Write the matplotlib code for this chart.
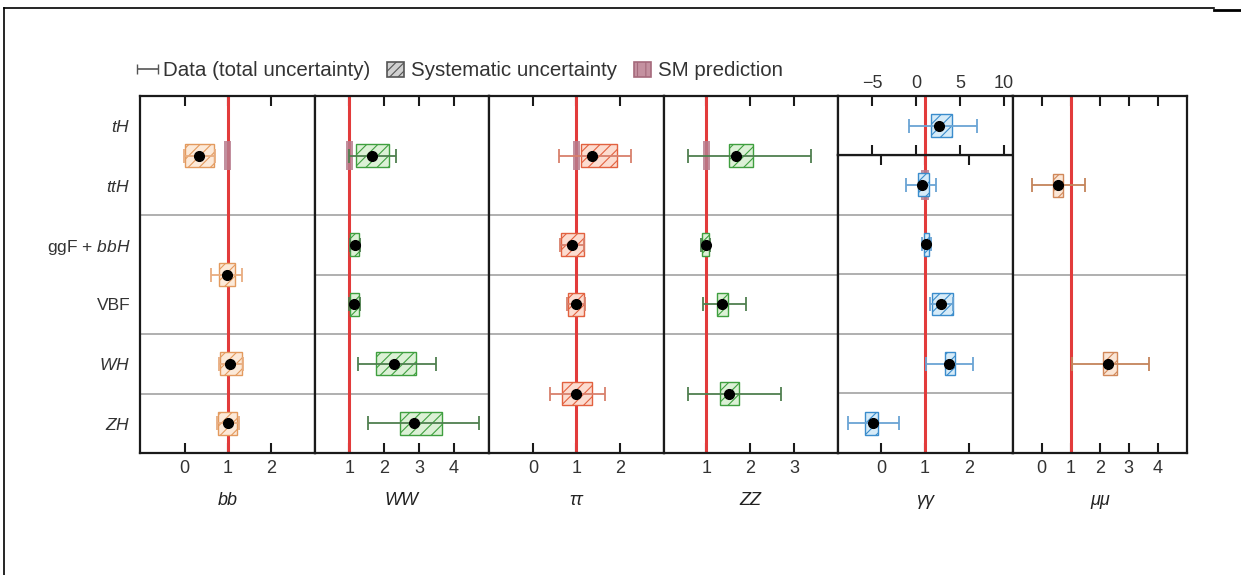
import numpy as np
import matplotlib.pyplot as plt
from matplotlib.patches import Rectangle
from matplotlib.lines import Line2D

plt.rcParams['font.family'] = ['Liberation Sans', 'DejaVu Sans']
plt.rcParams['mathtext.fontset'] = 'custom'
plt.rcParams['mathtext.it'] = 'Liberation Sans:italic'
plt.rcParams['mathtext.rm'] = 'Liberation Sans'
plt.rcParams['hatch.linewidth'] = 0.8

### DATA
prod_labels = ['$tH$', '$ttH$', 'ggF + $bbH$', 'VBF', '$WH$', '$ZH$']
channels = ['bb', 'WW', 'ττ', 'ZZ', 'γγ', 'μμ']

# row index: 0 = tH ... 5 = ZH, x.5 = merged rows
bb_rows = [0.5, 2.5, 4, 5]
bb_mu = [0.34, 0.97, 1.06, 1.00]
bb_tot = [[0.36, 0.35, 0.27, 0.25], [0.37, 0.36, 0.28, 0.25]]
bb_syst = [[0.33, 0.18, 0.24, 0.22], [0.35, 0.19, 0.26, 0.22]]
bb_sm = [0.08, 0, 0, 0]
bb_seps = [1.5, 3.5, 4.5]

ww_rows = [0.5, 2, 3, 4, 5]
ww_mu = [1.66, 1.15, 1.13, 2.27, 2.86]
ww_tot = [[0.66, 0.14, 0.14, 1.01, 1.32], [0.68, 0.14, 0.16, 1.22, 1.85]]
ww_syst = [[0.46, 0.12, 0.12, 0.50, 0.40], [0.48, 0.13, 0.15, 0.64, 0.80]]
ww_sm = [0.09, 0, 0, 0, 0]
ww_seps = [1.5, 2.5, 3.5, 4.5]

tt_rows = [0.5, 2, 3, 4.5]
tt_mu = [1.36, 0.90, 0.99, 0.99]
tt_tot = [[0.76, 0.28, 0.20, 0.60], [0.89, 0.28, 0.20, 0.67]]
tt_syst = [[0.26, 0.26, 0.18, 0.32], [0.57, 0.27, 0.18, 0.37]]
tt_sm = [0.08, 0, 0, 0]
tt_seps = [1.5, 2.5, 3.5]

zz_rows = [0.5, 2, 3, 4.5]
zz_mu = [1.68, 0.98, 1.36, 1.52]
zz_tot = [[1.09, 0.10, 0.43, 0.95], [1.71, 0.10, 0.55, 1.18]]
zz_syst = [[0.16, 0.08, 0.11, 0.20], [0.39, 0.08, 0.12, 0.23]]
zz_sm = [0.09, 0, 0, 0]
zz_seps = [1.5, 2.5, 3.5]

# gamma gamma tH on its own scale
yy_th_mu = [2.6]
yy_th_tot = [[3.4], [4.3]]
yy_th_syst = [[0.9], [1.5]]

yy_rows = [1, 2, 3, 4, 5]
yy_mu = [0.94, 1.03, 1.37, 1.55, -0.20]
yy_tot = [[0.37, 0.10, 0.25, 0.52, 0.56], [0.32, 0.10, 0.28, 0.55, 0.61]]
yy_syst = [[0.09, 0.06, 0.20, 0.10, 0.17], [0.16, 0.06, 0.28, 0.13, 0.13]]
yy_sm = [0.10, 0, 0, 0, 0]
yy_seps = [1.5, 2.5, 3.5, 4.5]

mm_rows = [1, 4]
mm_mu = [0.55, 2.30]
mm_tot = [[0.89, 1.27], [0.93, 1.40]]
mm_syst = [[0.17, 0.20], [0.18, 0.30]]
mm_sm = [0, 0]
mm_seps = [2.5]

xlims = [(-1.03, 3.0), (0, 5), (-1.01, 3.0), (0.02, 4.0), (-0.99, 3.0), (-1.0, 5.0)]
xticks = [[0, 1, 2], [1, 2, 3, 4], [0, 1, 2], [1, 2, 3], [0, 1, 2], [0, 1, 2, 3, 4]]
yy_th_xlim = (-8.9, 11)
yy_th_ticks = [-5, 0, 5, 10]

# colours: (error bar, box edge/hatch, box face)
orange = ('#e8ad80', '#e39a5e', '#fce9d8')
green = ('#4f7f4f', '#3f9f3f', '#dcf1d6')
red = ('#d8806c', '#e2613f', '#fcdcd0')
blue = ('#6aa4d4', '#3a8ccc', '#d6ebf8')
brown = ('#c4845a', '#d0885a', '#fbe6d6')

panels = [
    (bb_rows, bb_mu, bb_tot, bb_syst, bb_sm, bb_seps, orange),
    (ww_rows, ww_mu, ww_tot, ww_syst, ww_sm, ww_seps, green),
    (tt_rows, tt_mu, tt_tot, tt_syst, tt_sm, tt_seps, red),
    (zz_rows, zz_mu, zz_tot, zz_syst, zz_sm, zz_seps, green),
    (yy_rows, yy_mu, yy_tot, yy_syst, yy_sm, yy_seps, blue),
    (mm_rows, mm_mu, mm_tot, mm_syst, mm_sm, mm_seps, brown),
]

W, H = 1241, 575
fig = plt.figure(figsize=(W / 100, H / 100), dpi=100)

left, top, bottom = 140, 96, 453
pw = 174.5
box_h = 0.38
sm_h = 0.5


def fx(px):
    return px / W


def fy(py):
    return 1 - py / H


def draw_points(ax, rows, mu, tot, syst, sm, col):
    ax.axvline(1, color='#e23b3b', lw=2.2, zorder=2)
    if sm is not None:
        for r, w in zip(rows, sm):
            if w > 0:
                ax.add_patch(Rectangle((1 - w, r - sm_h / 2), 2 * w, sm_h,
                                       facecolor='#b87d8e', edgecolor='none',
                                       alpha=0.85, zorder=3))
    for r, m, lo, hi in zip(rows, mu, syst[0], syst[1]):
        ax.add_patch(Rectangle((m - lo, r - box_h / 2), lo + hi, box_h,
                               facecolor=col[2], edgecolor=col[1],
                               hatch='///', lw=1, zorder=4))
    ax.errorbar(mu, rows, xerr=tot, fmt='o', color='black', ms=7,
                ecolor=col[0], elinewidth=1.3, capsize=5, capthick=1.3,
                zorder=5)


def style_axis(ax):
    for s in ax.spines.values():
        s.set_linewidth(1.6)
        s.set_color('#1a1a1a')
    ax.tick_params(axis='x', direction='in', length=7, width=1.5, top=True,
                   labelsize=13, pad=5, colors='#1a1a1a', labelcolor='#333333')
    ax.tick_params(axis='y', length=0)


for i, (rows, mu, tot, syst, sm, seps, col) in enumerate(panels):
    x0 = left + i * pw
    if i == 4:
        ax = fig.add_axes([fx(x0), fy(bottom), fx(pw), fy(155) - fy(bottom)])
        ax.set_ylim(5.5, 0.5)
    else:
        ax = fig.add_axes([fx(x0), fy(bottom), fx(pw), fy(top) - fy(bottom)])
        ax.set_ylim(5.5, -0.5)
    for s in seps:
        ax.axhline(s, color='#a9a9a9', lw=1.3, zorder=1)
    draw_points(ax, rows, mu, tot, syst, sm, col)
    ax.set_xlim(xlims[i])
    ax.set_xticks(xticks[i])
    style_axis(ax)
    ax.set_xlabel(channels[i], fontsize=13, style='italic', labelpad=11,
                  color='#222222')
    if i == 0:
        ax.set_yticks(range(6))
        ax.set_yticklabels(prod_labels, fontsize=12.5, color='#333333')
        ax.tick_params(axis='y', pad=7)
    else:
        ax.set_yticks([])

    if i == 4:
        # tH inset for gamma gamma with its own scale
        axi = fig.add_axes([fx(x0), fy(155), fx(pw), fy(top) - fy(155)])
        axi.set_ylim(0.5, -0.5)
        draw_points(axi, [0], yy_th_mu, yy_th_tot, yy_th_syst, None, col)
        axi.set_xlim(yy_th_xlim)
        axi.set_xticks(yy_th_ticks)
        style_axis(axi)
        axi.tick_params(axis='x', labeltop=True, labelbottom=False, pad=3)
        axi.set_yticks([])

# legend (proxy error bar drawn outside a hidden axes)
axl = fig.add_axes([0, 0, 0.01, 0.01])
axl.set_axis_off()
axl.set_xlim(10, 11)
axl.set_ylim(10, 11)
h_data = axl.errorbar([0], [0], xerr=[1], fmt='none', ecolor='#555555',
                      elinewidth=1.2, capsize=3.5)
h_syst = Rectangle((0, 0), 1, 1, facecolor='#d0d0d0', edgecolor='#555555',
                   hatch='////', lw=1.2)
h_sm = Rectangle((0, 0), 1, 1, facecolor='#c491a0', edgecolor='#a56a7c',
                 hatch='||', lw=1.2)
fig.legend([h_data, h_syst, h_sm],
           ['Data (total uncertainty)', 'Systematic uncertainty', 'SM prediction'],
           loc='center left', bbox_to_anchor=(fx(139), fy(71)), ncol=3,
           frameon=False, fontsize=14.8, handlelength=0.8, handleheight=0.75,
           handletextpad=0.35, columnspacing=0.85, borderpad=0,
           borderaxespad=0, labelcolor='#333333')

# page frame
fig.add_artist(Line2D([fx(4), fx(1214)], [fy(8), fy(8)], color='black', lw=1.2))
fig.add_artist(Line2D([fx(1214), fx(1241)], [fy(9.5), fy(9.5)], color='black', lw=2))
fig.add_artist(Line2D([fx(4), fx(4)], [fy(8), fy(575)], color='black', lw=1.2))

fig.savefig('out.png', dpi=100)
